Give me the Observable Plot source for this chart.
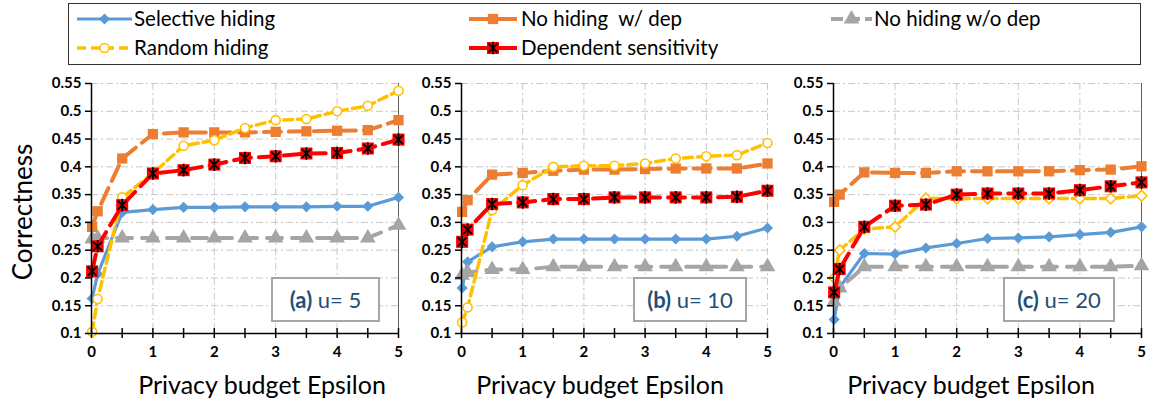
<!DOCTYPE html>
<html><head><meta charset="utf-8">
<script src="https://cdn.jsdelivr.net/npm/d3@7"></script>
<script src="https://cdn.jsdelivr.net/npm/@observablehq/plot@0.6"></script>
<style>
body{margin:0;background:#fff;}
#root{position:relative;width:1157px;height:406px;overflow:hidden;font-family:Lato,"Open Sans",sans-serif;color:#000;}
.panel{position:absolute;top:70px;}
.panel svg{overflow:visible;}
#legend{position:absolute;left:68px;top:3px;width:1073px;height:62px;border:1.5px solid #333;box-sizing:border-box;}
.litem{position:absolute;font-size:20.5px;line-height:24px;white-space:pre;}
.lsw{position:absolute;}
.xtitle{position:absolute;top:369px;font-size:25px;line-height:30px;white-space:nowrap;transform:translateX(-50%);}
#ytitle{position:absolute;left:22px;top:212px;font-size:26px;line-height:30px;white-space:nowrap;transform:translate(-50%,-50%) rotate(-90deg);}
.tag{position:absolute;top:277px;height:45px;border:2px solid #a6a6a6;box-sizing:border-box;background:#fff;color:#1f4e79;font-size:22px;display:flex;align-items:center;justify-content:center;white-space:pre;}
</style></head><body><div id="root"></div>
<script>
// ---- data ----
const epsilon = [0.01, 0.1, 0.5, 1, 1.5, 2, 2.5, 3, 3.5, 4, 4.5, 5];
const seriesNames = ["Selective hiding", "No hiding  w/ dep", "No hiding w/o dep", "Random hiding", "Dependent sensitivity"];
const yTicks = [0.1, 0.15, 0.2, 0.25, 0.3, 0.35, 0.4, 0.45, 0.5, 0.55];
const xLabels = [0, 1, 2, 3, 4, 5];
const xMinor = [0, 0.5, 1, 1.5, 2, 2.5, 3, 3.5, 4, 4.5, 5];
const panelTags = ["(a)", "(b)", "(c)"];
const panelU = [" u= 5", " u= 10", " u= 20"];

const a_selective   = [0.163, 0.207, 0.318, 0.323, 0.327, 0.327, 0.328, 0.328, 0.328, 0.329, 0.329, 0.345];
const a_noHideDep   = [0.292, 0.320, 0.415, 0.459, 0.462, 0.462, 0.462, 0.463, 0.464, 0.465, 0.466, 0.484];
const a_noHideNoDep = [0.270, 0.272, 0.272, 0.272, 0.272, 0.272, 0.272, 0.272, 0.272, 0.272, 0.272, 0.295];
const a_random      = [0.103, 0.162, 0.345, 0.388, 0.438, 0.448, 0.470, 0.484, 0.486, 0.500, 0.510, 0.537];
const a_depSens     = [0.212, 0.257, 0.331, 0.388, 0.394, 0.404, 0.416, 0.419, 0.424, 0.425, 0.433, 0.449];

const b_selective   = [0.182, 0.229, 0.256, 0.265, 0.270, 0.270, 0.270, 0.270, 0.270, 0.270, 0.275, 0.290];
const b_noHideDep   = [0.319, 0.340, 0.386, 0.389, 0.393, 0.395, 0.395, 0.396, 0.397, 0.397, 0.397, 0.406];
const b_noHideNoDep = [0.205, 0.210, 0.215, 0.215, 0.220, 0.220, 0.220, 0.220, 0.220, 0.220, 0.220, 0.220];
const b_random      = [0.120, 0.147, 0.322, 0.367, 0.400, 0.402, 0.402, 0.406, 0.415, 0.419, 0.421, 0.443];
const b_depSens     = [0.265, 0.287, 0.333, 0.336, 0.342, 0.342, 0.345, 0.345, 0.345, 0.345, 0.346, 0.357];

const c_selective   = [0.125, 0.183, 0.244, 0.243, 0.254, 0.262, 0.271, 0.272, 0.274, 0.278, 0.282, 0.292];
const c_noHideDep   = [0.337, 0.350, 0.390, 0.389, 0.389, 0.392, 0.392, 0.392, 0.392, 0.394, 0.395, 0.401];
const c_noHideNoDep = [0.157, 0.182, 0.220, 0.220, 0.220, 0.220, 0.220, 0.220, 0.220, 0.220, 0.220, 0.222];
const c_random      = [0.200, 0.250, 0.288, 0.292, 0.343, 0.343, 0.343, 0.343, 0.343, 0.343, 0.343, 0.348];
const c_depSens     = [0.174, 0.216, 0.292, 0.330, 0.332, 0.350, 0.352, 0.352, 0.352, 0.358, 0.365, 0.372];

const panelValues = [
  [a_selective, a_noHideDep, a_noHideNoDep, a_random, a_depSens],
  [b_selective, b_noHideDep, b_noHideNoDep, b_random, b_depSens],
  [c_selective, c_noHideDep, c_noHideNoDep, c_random, c_depSens]
];

// ---- styles ----
const starSymbol = {
  draw(ctx, size) {
    const r = Math.sqrt(size / Math.PI), d = r * Math.SQRT1_2;
    ctx.moveTo(0, -r); ctx.lineTo(0, r);
    ctx.moveTo(-d, -d); ctx.lineTo(d, d);
    ctx.moveTo(-d, d); ctx.lineTo(d, -d);
  }
};
const styles = [
  {color: "#5b9bd5", width: 3.2, dash: null, marks: [{symbol: "diamond2", r: 5, fill: "#5b9bd5", stroke: "none"}]},
  {color: "#ed7d31", width: 4, dash: "17,8", marks: [{symbol: "square", r: 5.8, fill: "#ed7d31", stroke: "none"}]},
  {color: "#a5a5a5", width: 4, dash: "15,10", marks: [{symbol: "triangle", r: 5.8, fill: "#a5a5a5", stroke: "none"}]},
  {color: "#ffc000", width: 3.5, dash: "9,5", marks: [{symbol: "circle", r: 4.5, fill: "#fff", stroke: "#ffc000", strokeWidth: 1.6}]},
  {color: "#ff0000", width: 4, dash: "17,8", marks: [{symbol: "square", r: 6.8, fill: "#ff0000", stroke: "none"}, {symbol: starSymbol, r: 6.3, fill: "none", stroke: "#000", strokeWidth: 1.7}]}
];
const randomMarkerC = [{symbol: "diamond2", r: 4.8, fill: "#fff", stroke: "#ffc000", strokeWidth: 1.6}];

const layout = [
  {left: 0, width: 400, ml: 91, mr: 2, tagLeft: 271, tagW: 109, titleX: 262, rightSolid: true},
  {left: 400, width: 370, ml: 61, mr: 3, tagLeft: 633, tagW: 114, titleX: 600, rightSolid: false},
  {left: 770, width: 387, ml: 63, mr: 16, tagLeft: 1003, tagW: 112, titleX: 971, rightSolid: true}
];

const root = document.getElementById("root");
const fmt = d => String(+d.toFixed(2));

panelValues.forEach((values, pi) => {
  const L = layout[pi];
  const marks = [
    Plot.gridY(yTicks.slice(1), {stroke: "#c8c8c8", strokeOpacity: 1, strokeDasharray: "7,3,2,3"}),
    Plot.gridX(L.rightSolid ? xLabels.slice(1, 5) : xLabels.slice(1), {stroke: "#c8c8c8", strokeOpacity: 1, strokeDasharray: "7,3,2,3"}),
  ];
  if (L.rightSolid) marks.push(Plot.ruleX([5], {stroke: "#606060", strokeWidth: 1}));
  seriesNames.forEach((name, si) => {
    const st = styles[si];
    const rows = epsilon.map((e, i) => ({series: name, eps: e, value: values[si][i]}));
    marks.push(Plot.line(rows, {x: "eps", y: "value", stroke: st.color, strokeWidth: st.width, strokeDasharray: st.dash}));
    const mk = (si === 3 && pi === 2) ? randomMarkerC : st.marks;
    mk.forEach(m => marks.push(Plot.dot(rows, {x: "eps", y: "value", symbol: m.symbol, r: m.r, fill: m.fill, stroke: m.stroke, strokeWidth: m.strokeWidth || 1})));
  });
  marks.push(
    Plot.ruleY([0.1], {stroke: "#000", strokeWidth: 1.5}),
    Plot.ruleX([0], {stroke: "#000", strokeWidth: 1.5}),
    Plot.axisY({ticks: yTicks, tickSize: 6, tickPadding: 4, tickFormat: fmt, label: null, strokeWidth: 1.5}),
    Plot.axisX({ticks: xMinor, tickSize: 5, tickPadding: 8, tickFormat: d => Number.isInteger(d) ? String(d) : "", label: null, strokeWidth: 1.5}),
    Plot.axisX({ticks: xMinor, tickSize: -5, tickFormat: () => "", label: null, strokeWidth: 1.5})
  );
  const chart = Plot.plot({
    width: L.width, height: 336,
    marginLeft: L.ml, marginRight: L.mr, marginTop: 13, marginBottom: 73,
    x: {domain: [0, 5]}, y: {domain: [0.1, 0.55]},
    style: {fontFamily: "Lato, 'Open Sans', sans-serif", fontSize: "15px", fontWeight: "bold", color: "#000", background: "transparent"},
    marks
  });
  const div = document.createElement("div");
  div.className = "panel";
  div.style.left = L.left + "px";
  div.appendChild(chart);
  root.appendChild(div);

  const tag = document.createElement("div");
  tag.className = "tag";
  tag.style.left = L.tagLeft + "px";
  tag.style.width = L.tagW + "px";
  tag.innerHTML = "<b>" + panelTags[pi] + "</b>" + panelU[pi];
  root.appendChild(tag);

  const xt = document.createElement("div");
  xt.className = "xtitle";
  xt.style.left = L.titleX + "px";
  xt.textContent = "Privacy budget Epsilon";
  root.appendChild(xt);
});

const yt = document.createElement("div");
yt.id = "ytitle";
yt.textContent = "Correctness";
root.appendChild(yt);

// ---- legend ----
const legend = document.createElement("div");
legend.id = "legend";
root.appendChild(legend);
const legendPos = [
  {sw: 76, sww: 55, tx: 133, y: 18},
  {sw: 468, sww: 48, tx: 520, y: 18},
  {sw: 830, sww: 41, tx: 873, y: 18},
  {sw: 76, sww: 55, tx: 133, y: 47},
  {sw: 468, sww: 48, tx: 520, y: 47}
];
seriesNames.forEach((name, si) => {
  const st = styles[si], P = legendPos[si];
  const w = P.sww, h = 20;
  const legendDash = si === 2 ? "12,5" : si === 3 ? "9,5" : null;
  let svg = `<svg width="${w}" height="${h}" style="overflow:visible"><line x1="0" x2="${w}" y1="${h/2}" y2="${h/2}" stroke="${st.color}" stroke-width="${st.width}"${legendDash ? ` stroke-dasharray="${legendDash}"` : ""}/>`;
  st.marks.forEach(m => {
    const typeMap = {diamond2: d3.symbolDiamond2, square: d3.symbolSquare, triangle: d3.symbolTriangle, circle: d3.symbolCircle};
    const type = typeof m.symbol === "string" ? typeMap[m.symbol] : m.symbol;
    const path = d3.symbol(type, Math.PI * m.r * m.r)();
    svg += `<path transform="translate(${w/2},${h/2})" d="${path}" fill="${m.fill}" stroke="${m.stroke}" stroke-width="${m.strokeWidth || 1}"/>`;
  });
  svg += "</svg>";
  const s = document.createElement("div");
  s.className = "lsw";
  s.style.left = (P.sw - 68) + "px";
  s.style.top = (P.y - 3 - h / 2) + "px";
  s.innerHTML = svg;
  legend.appendChild(s);
  const t = document.createElement("div");
  t.className = "litem";
  t.style.left = (P.tx - 68) + "px";
  t.style.top = (P.y - 3 - 13) + "px";
  t.textContent = name;
  legend.appendChild(t);
});
</script></body></html>
